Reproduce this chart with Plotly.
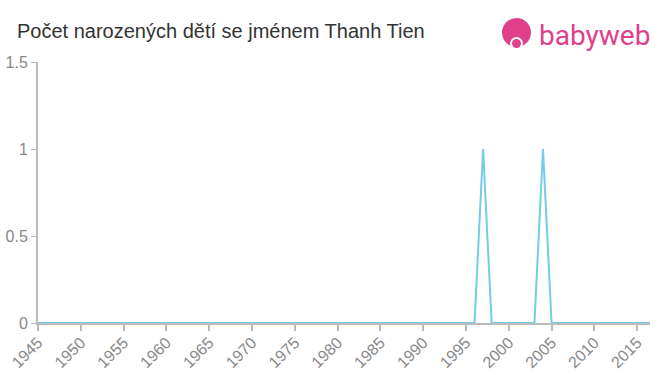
import plotly.graph_objects as go

years = list(range(1945, 2018))
counts = [0] * len(years)
peak_years = [1997, 2004]
peak_values = [1, 1]
for y, v in zip(peak_years, peak_values):
    counts[years.index(y)] = v

x_ticks = list(range(1945, 2020, 5))
y_ticks = [0, 0.5, 1, 1.5]
y_tick_labels = ["0", "0.5", "1", "1.5"]

L, R, T, B = 38, 10, 62, 52
PW, PH = 660 - L - R, 375 - T - B

def px(x):
    return (x - L) / PW

def py(y):
    return (375 - B - y) / PH

fig = go.Figure()
fig.add_trace(go.Scatter(x=years, y=counts, mode="lines",
                         line=dict(color="#74cbec", width=2), hoverinfo="skip"))

fig.update_layout(
    width=660, height=375,
    margin=dict(l=L, r=R, t=T, b=B, autoexpand=False),
    paper_bgcolor="white", plot_bgcolor="white",
    showlegend=False,
    font=dict(family="Liberation Sans, Arial, sans-serif", color="#888"),
    title=dict(text="Počet narozených dětí se jménem Thanh Tien",
               x=17 / 660, xanchor="left", y=1 - 31 / 375, yanchor="middle",
               font=dict(size=20, color="#333")),
)
fig.update_xaxes(range=[1945, 2016.5], tickvals=x_ticks, tickangle=-45,
                 showgrid=False, zeroline=False, showline=True, automargin=False,
                 linecolor="#bbb", linewidth=2, ticks="outside",
                 tickcolor="#bbb", ticklen=6, tickwidth=2,
                 ticklabelstandoff=-4,
                 tickfont=dict(size=16, color="#888"))
fig.update_yaxes(range=[0, 1.5], tickvals=y_ticks, ticktext=y_tick_labels,
                 showgrid=False, zeroline=False, showline=True, automargin=False,
                 linecolor="#bbb", linewidth=2, ticks="outside",
                 tickcolor="#bbb", ticklen=5, tickwidth=1,
                 tickfont=dict(size=16, color="#888"))

# logo
fig.add_shape(type="circle", xref="paper", yref="paper",
              x0=px(502), x1=px(531), y0=py(47), y1=py(18),
              fillcolor="#e0408a", line=dict(width=0))
fig.add_shape(type="circle", xref="paper", yref="paper",
              x0=px(510), x1=px(523), y0=py(50), y1=py(37),
              fillcolor="white", line=dict(width=0))
fig.add_shape(type="circle", xref="paper", yref="paper",
              x0=px(512), x1=px(521), y0=py(48), y1=py(39),
              fillcolor="#e0408a", line=dict(width=0))
fig.add_annotation(text="babyweb", xref="paper", yref="paper",
                   x=px(537), y=py(35), xanchor="left", yanchor="middle",
                   showarrow=False, font=dict(size=28, color="#e0408a",
                                              family="Roboto, sans-serif"))

fig.write_html("out.html")
